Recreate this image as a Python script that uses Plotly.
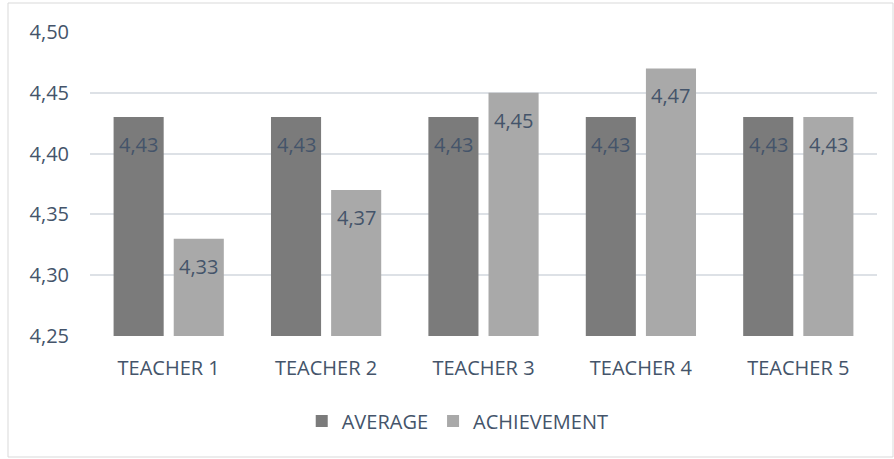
import plotly.graph_objects as go

categories = ["TEACHER 1", "TEACHER 2", "TEACHER 3", "TEACHER 4", "TEACHER 5"]
average = [4.43, 4.43, 4.43, 4.43, 4.43]
achievement = [4.33, 4.37, 4.45, 4.47, 4.43]
tick_vals = [4.25, 4.30, 4.35, 4.40, 4.45, 4.50]
tick_text = ["4,25", "4,30", "4,35", "4,40", "4,45", "4,50"]

def fmt(v):
    return f"{v:.2f}".replace(".", ",")

FONT = "Open Sans"
TXT = "#44546a"

fig = go.Figure()
fig.add_trace(go.Bar(
    name="AVERAGE", x=categories, y=[v - 4.25 for v in average], base=4.25,
    marker=dict(color="#7b7b7b", line=dict(width=0)), hoverinfo="skip",
))
fig.add_trace(go.Bar(
    name="ACHIEVEMENT", x=categories, y=[v - 4.25 for v in achievement], base=4.25,
    marker=dict(color="#a9a9a9", line=dict(width=0)), hoverinfo="skip",
))

# data labels, inside end of each bar
for vals, shift in ((average, -30), (achievement, 30)):
    for c, v in zip(categories, vals):
        fig.add_annotation(x=c, y=v, xref="x", yref="y", text=fmt(v), showarrow=False,
                           xanchor="center", yanchor="top", xshift=shift, yshift=-12,
                           font=dict(family=FONT, size=20, color=TXT))

W, H = 894, 459
L, R, T, B = 90, 17, 32, 123
pw, ph = W - L - R, H - T - B

def px_x(x):
    return (x - L) / pw

def px_y(y):
    return (H - B - y) / ph

fig.add_shape(type="rect", xref="paper", yref="paper",
              x0=px_x(8), x1=px_x(893), y0=px_y(457), y1=px_y(3),
              line=dict(color="#d9d9d9", width=1), fillcolor="rgba(0,0,0,0)", layer="below")

fig.update_layout(
    width=W, height=H,
    margin=dict(l=L, r=R, t=T, b=B),
    paper_bgcolor="white", plot_bgcolor="white",
    barmode="group", bargap=0.236, bargroupgap=0.167,
    font=dict(family=FONT, size=20, color=TXT),
    showlegend=True,
    legend=dict(orientation="h", xref="container", x=0.512, xanchor="center",
                yref="container", y=0.083, yanchor="middle",
                font=dict(family=FONT, size=20, color=TXT)),
)
fig.update_xaxes(showgrid=False, showline=False, ticks="", ticklabelstandoff=18,
                 tickfont=dict(family=FONT, size=20, color=TXT))
fig.update_yaxes(range=[4.25, 4.50], tickvals=tick_vals, ticktext=tick_text,
                 showgrid=True, gridcolor="#dde1e6", gridwidth=1.5, zeroline=False,
                 showline=False, ticks="", ticklabelstandoff=20,
                 tickfont=dict(family=FONT, size=20, color=TXT))

fig.write_html("out.html", config={"displayModeBar": False},
               post_script="document.body.style.margin='0';")
